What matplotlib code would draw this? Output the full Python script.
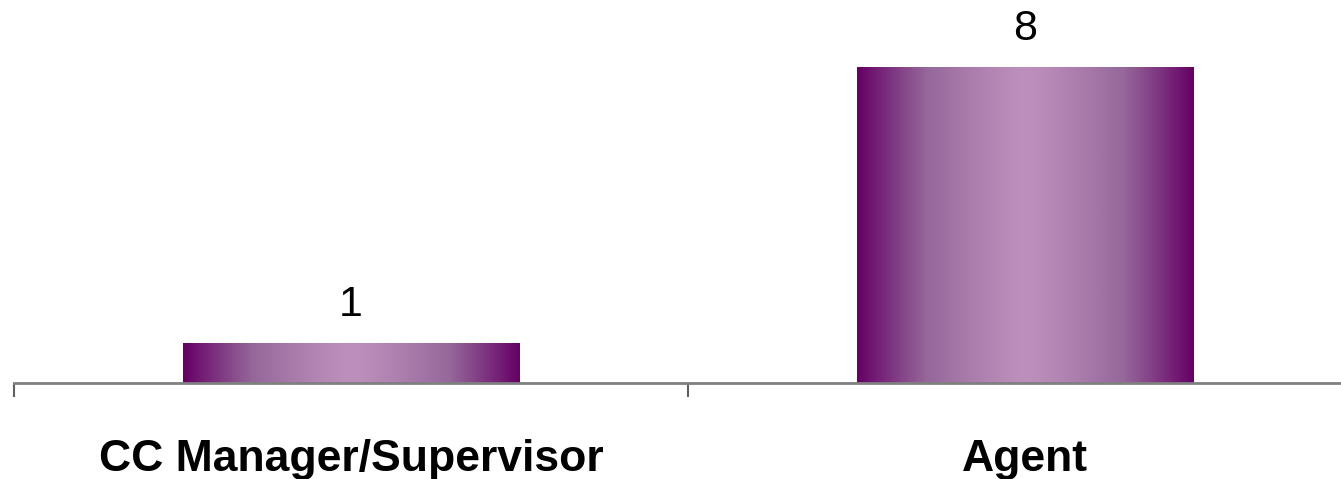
import numpy as np
import matplotlib.pyplot as plt
from matplotlib.colors import LinearSegmentedColormap

categories = ['CC Manager/Supervisor', 'Agent']
values = [1, 8]

plt.rcParams['font.family'] = ['Liberation Sans', 'DejaVu Sans']

fig = plt.figure(figsize=(13.41, 4.79), dpi=100)
ax = fig.add_axes([14 / 1341, 96 / 479, 1348 / 1341, 383 / 479])

x = np.arange(len(categories))
bars = ax.bar(x, values, width=0.5, color='none', edgecolor='none')

# Farbverlauf: dunkel am Rand, hell in der Mitte
cmap = LinearSegmentedColormap.from_list(
    'purple_grad', ['#660066', '#95679a', '#bc8fbc'])
t = np.linspace(0, 1, 256)
grad = 1 - np.abs(2 * t - 1) ** 1.3
grad = grad[np.newaxis, :]

for bar in bars:
    x0 = bar.get_x()
    w = bar.get_width()
    h = bar.get_height()
    ax.imshow(grad, cmap=cmap, aspect='auto', extent=(x0, x0 + w, 0, h),
              interpolation='bicubic', zorder=2)
    ax.text(x0 + w / 2, h + 0.47, f'{int(h)}', ha='center', va='bottom',
            fontsize=31, color='black')

ax.set_xlim(-0.5, 1.5)
ax.set_ylim(0, 9.72)

for side in ['top', 'right', 'left']:
    ax.spines[side].set_visible(False)
ax.spines['bottom'].set_color('#808080')
ax.spines['bottom'].set_linewidth(2)
ax.spines['bottom'].set_zorder(3)

ax.set_yticks([])
ax.set_xticks(x)
ax.set_xticklabels(categories, fontsize=32, fontweight='bold')
ax.tick_params(axis='x', which='major', length=0, pad=40)
ax.set_xticks([-0.5, 0.5, 1.5], minor=True)
ax.tick_params(axis='x', which='minor', length=10, width=1.5, color='#606060')

fig.savefig('out.png', dpi=100)
